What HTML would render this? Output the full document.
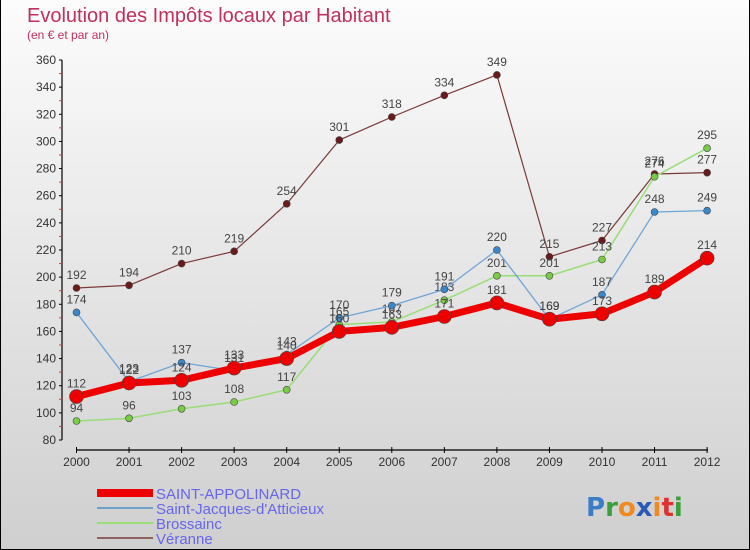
<!DOCTYPE html>
<html><head><meta charset="utf-8"><style>
body{margin:0}
#c{width:748px;height:549px;position:relative;border:1px solid #000;border-top:none;background:linear-gradient(#fcfcfc,#cfcfcf);font-family:"Liberation Sans",sans-serif;overflow:hidden}
svg{position:absolute;left:0;top:0}
</style></head><body>
<div id="c">
<svg id="s" width="750" height="550">
<text x="26" y="22" font-size="20" fill="#c0305a">Evolution des Impôts locaux par Habitant</text>
<text x="26" y="39" font-size="12" fill="#c0305a">(en € et par an)</text>
<g font-size="15" fill="#6666ee">
<rect x="96" y="489" width="56" height="8" fill="#ee0000"/>
<text x="155" y="499">SAINT-APPOLINARD</text>
<rect x="96" y="507" width="56" height="2" fill="#6fa0c8"/>
<text x="155" y="514">Saint-Jacques-d'Atticieux</text>
<rect x="96" y="522" width="56" height="2" fill="#99dd77"/>
<text x="155" y="529">Brossainc</text>
<rect x="96" y="537" width="56" height="2" fill="#8b6060"/>
<text x="155" y="544">Véranne</text>
</g>
<text font-size="26" font-weight="bold" font-family="'DejaVu Sans',sans-serif"><tspan fill="#3a7cc8" x="585" y="516">P</tspan><tspan fill="#3aa03a">r</tspan><tspan fill="#f08a20">o</tspan><tspan fill="#2a5ab8">x</tspan><tspan fill="#f08a20">i</tspan><tspan fill="#e03030">t</tspan><tspan fill="#3aa03a">i</tspan></text>
</svg></div>
<script>
const years=[2000,2001,2002,2003,2004,2005,2006,2007,2008,2009,2010,2011,2012];
const yTicks=[80,100,120,140,160,180,200,220,240,260,280,300,320,340,360];
const saintAppolinard=[112,122,124,133,140,160,163,171,181,169,173,189,214];
const saintJacques=[174,123,137,131,143,170,179,191,220,169,187,248,249];
const brossainc=[94,96,103,108,117,165,167,183,201,201,213,274,295];
const veranne=[192,194,210,219,254,301,318,334,349,215,227,276,277];
const NS="http://www.w3.org/2000/svg";
const s=document.getElementById('s');
const X=i=>75.5+i*52.55;
const Y=v=>440-(v-80)*380/280;
function mk(t,a,p){const e=document.createElementNS(NS,t);for(const k in a)e.setAttribute(k,a[k]);(p||s).appendChild(e);return e;}
const ax=mk('g',{});


mk('line',{x1:61,y1:Y(360),x2:61,y2:Y(80),stroke:'#000','stroke-width':1.2},ax);
mk('line',{x1:75,y1:450,x2:707,y2:450,stroke:'#000','stroke-width':1.2},ax);
yTicks.forEach((v,i)=>{
 mk('line',{x1:58,y1:Y(v),x2:61,y2:Y(v),stroke:'#000'},ax);
 if(i<yTicks.length-1)mk('line',{x1:58,y1:Y(v+10),x2:61,y2:Y(v+10),stroke:'#e33'},ax);
 const t=mk('text',{x:55,y:Y(v)+4,'font-size':12,fill:'#333','text-anchor':'end'},ax);
 
 
 t.textContent=v;
});
years.forEach((y,i)=>{
 mk('line',{x1:X(i),y1:447,x2:X(i),y2:453,stroke:'#000'},ax);
 const t=mk('text',{x:X(i),y:466,'font-size':12,fill:'#333','text-anchor':'middle'},ax);
 
 
 t.textContent=y;
});
function series(name,vals,col,w,r,mcol){
 const g=mk('g',{});
 
 
 const pl=mk('polyline',{points:vals.map((v,i)=>X(i)+','+Y(v)).join(' '),fill:'none',stroke:col,'stroke-width':w,'stroke-linejoin':'round'},g);
 
 
 vals.forEach((v,i)=>{
  const c=mk('circle',{cx:X(i),cy:Y(v),r:r,fill:mcol,stroke:'#444','stroke-width':0.6},g);
  
  
  const t=mk('text',{x:X(i),y:Y(v)-9,'font-size':12,fill:'#444','text-anchor':'middle'},g);
  
  
  t.textContent=v;
 });
}
series('veranne',veranne,'#7a3a3a',1.2,3.5,'#6b1a1a');
series('brossainc',brossainc,'#99dd77',1.5,3.5,'#77cc44');
series('saint-jacques',saintJacques,'#6fa6d8',1.3,3.5,'#3a88cc');
series('saint-appolinard',saintAppolinard,'#ee0000',7,7,'#ee0000');
</script>
</body></html>
